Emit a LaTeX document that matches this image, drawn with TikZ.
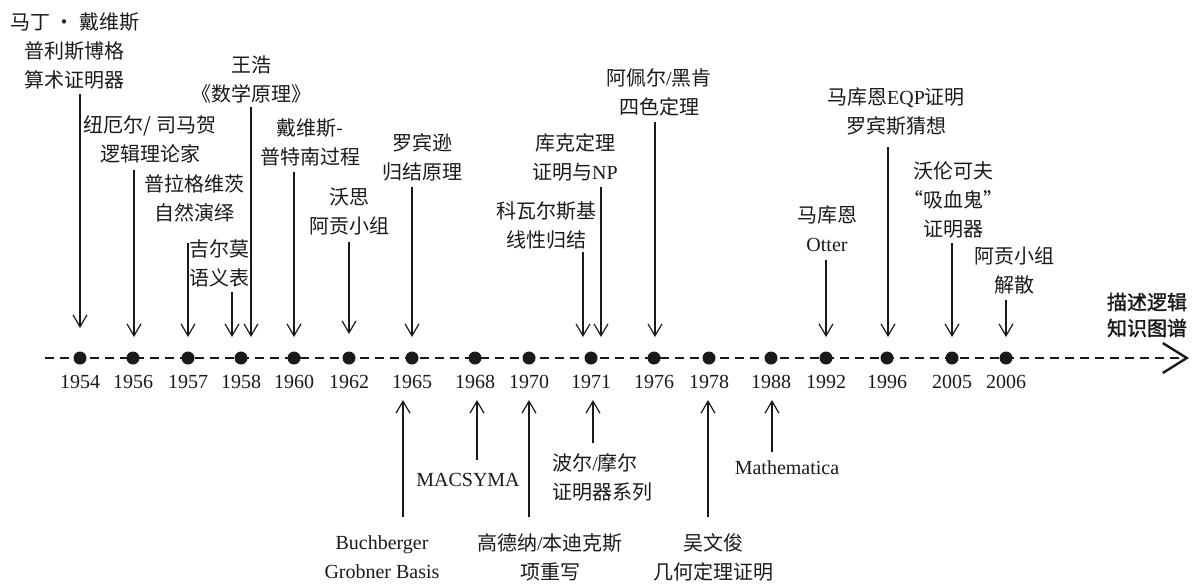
\documentclass[tikz,border=0pt]{standalone}
\usepackage{fontspec}
\setmainfont{Liberation Serif}
\newfontfamily\cjk{Noto Sans CJK SC}
\newfontfamily\cjkb[FakeBold=1.5]{Noto Sans CJK SC}
\usetikzlibrary{arrows.meta}
\definecolor{ink}{HTML}{1A1A1A}
\begin{document}
\begin{tikzpicture}[x=0.5pt,y=-0.5pt,
  lab/.style={align=center, font=\cjk\fontsize{10}{14.5}\selectfont, inner sep=0pt, text=ink},
  latin/.style={align=center, font=\rmfamily\fontsize{10}{14.5}\selectfont, inner sep=0pt, text=ink},
  year/.style={font=\rmfamily\fontsize{10}{12}\selectfont, inner sep=0pt, text=ink},
  dot/.style={circle, fill=ink, minimum size=6.5pt, inner sep=0pt},
  arr/.style={line width=0.6pt, draw=ink, -{Straight Barb[length=6pt,width=7pt]}},
  timeline/.style={line width=1.2pt, dash pattern=on 4.6pt off 2.9pt, draw=ink}]
\useasboundingbox (0,0) rectangle (1192,585);

% timeline
\coordinate (tl0) at (45,358);
\coordinate (tl1) at (1189,358);
\draw[timeline, -{Straight Barb[length=12pt,width=15pt]}] (tl0) -- (tl1);

% dots and years
\foreach \yr/\x in {1954/80,1956/133,1957/188,1958/241,1960/294,1962/349,1965/412,1968/475,1970/529,1971/591,1976/654,1978/709,1988/771,1992/826,1996/887,2005/952,2006/1006}{
  \node[dot] (d\yr) at (\x,358) {};
  \node[year] (y\yr) at (\x,382) {\yr};
}

% top labels
\node[lab] (t1954) at (75,51) {马丁 · 戴维斯\\普利斯博格\\算术证明器};
\node[lab] (t1956) at (150,139) {纽厄尔/ 司马贺\\逻辑理论家};
\node[lab] (t1957) at (194,198) {普拉格维茨\\自然演绎};
\node[lab] (t1958a) at (219,263) {吉尔莫\\语义表};
\node[lab] (t1958b) at (251,80) {王浩\\《数学原理》};
\node[lab] (t1960) at (310,142) {戴维斯-\\普特南过程};
\node[lab] (t1962) at (349,212) {沃思\\阿贡小组};
\node[lab] (t1965) at (422,157) {罗宾逊\\归结原理};
\node[lab] (t1971a) at (546,225) {科瓦尔斯基\\线性归结};
\node[lab] (t1971b) at (575,157) {库克定理\\证明与{\rmfamily NP}};
\node[lab] (t1976) at (659,92) {阿佩尔{\rmfamily /}黑肯\\四色定理};
\node[lab] (t1992) at (827,229) {马库恩\\{\rmfamily Otter}};
\node[lab] (t1996) at (896,112) {马库恩{\rmfamily EQP}证明\\罗宾斯猜想};
\node[lab] (t2005) at (953,200) {沃伦可夫\\“吸血鬼”\\证明器};
\node[lab] (t2006) at (1014,270) {阿贡小组\\解散};
\node[lab, font=\cjkb\fontsize{10}{13}\selectfont] (kg) at (1147,315) {描述逻辑\\知识图谱};

% bottom labels
\node[latin] (b1965) at (382,557) {Buchberger\\Grobner Basis};
\node[latin] (b1968) at (468,480) {MACSYMA};
\node[lab] (b1970) at (550,557) {高德纳{\rmfamily /}本迪克斯\\项重写};
\node[lab, align=left, anchor=west] (b1971) at (552,477) {波尔{\rmfamily /}摩尔\\证明器系列};
\node[lab] (b1978) at (713,557) {吴文俊\\几何定理证明};
\node[latin] (b1988) at (787,468) {Mathematica};

% top arrows (downward)
\foreach \n/\x/\ya/\yb in {1954/80/94/328,1956/134/170/337,1957/188/243/337,1958a/232/292/337,1958b/251/107/337,1960/294/172/337,1962/349/242/334,1965/412/187/337,1971a/583/252/337,1971b/601/187/337,1976/655/122/337,1992/826/260/337,1996/888/147/337,2005/952/243/337,2006/1006/300/337}{
  \coordinate (s\n) at (\x,\ya);
  \coordinate (e\n) at (\x,\yb);
  \draw[arr] (s\n) -- (e\n);
}

% bottom arrows (upward)
\foreach \n/\x/\ya in {1965/403/517,1968/477/460,1970/529/517,1971/593/443,1978/708/517,1988/772/452}{
  \coordinate (bs\n) at (\x,\ya);
  \coordinate (be\n) at (\x,400);
  \draw[arr] (bs\n) -- (be\n);
}
\end{tikzpicture}
\end{document}
